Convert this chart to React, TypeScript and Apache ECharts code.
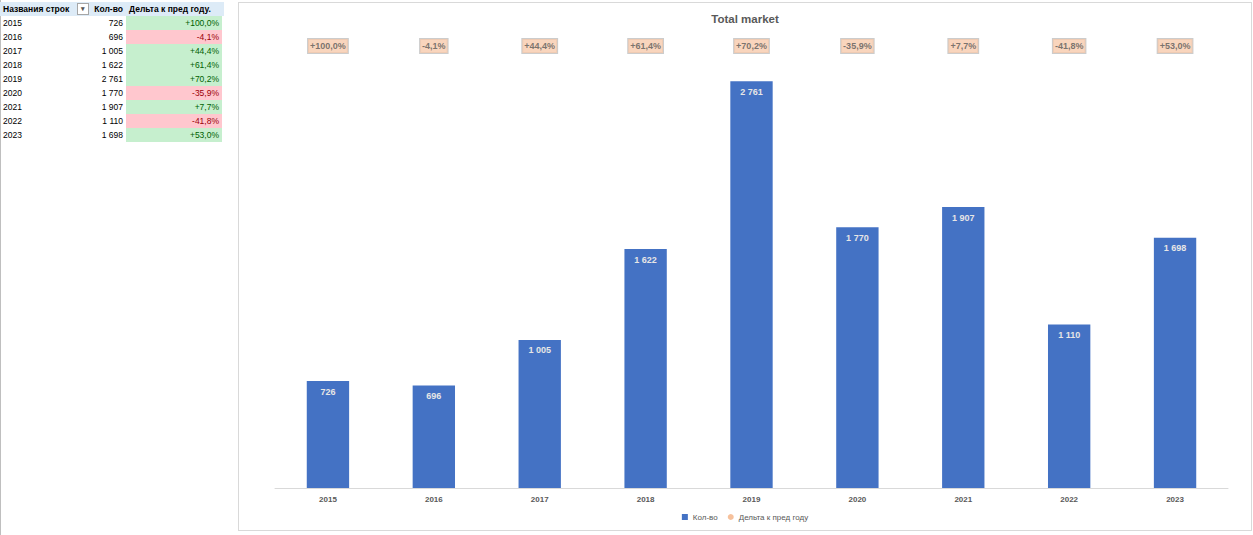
import React, { useEffect, useRef } from 'react';
import * as echarts from 'echarts';

const years = ['2015', '2016', '2017', '2018', '2019', '2020', '2021', '2022', '2023'];
const counts = [726, 696, 1005, 1622, 2761, 1770, 1907, 1110, 1698];
const deltas = [100.0, -4.1, 44.4, 61.4, 70.2, -35.9, 7.7, -41.8, 53.0];

const fmtNum = (v: number) => String(v).replace(/\B(?=(\d{3})+(?!\d))/g, ' ');
const fmtPct = (v: number) => (v >= 0 ? '+' : '') + v.toFixed(1).replace('.', ',') + '%';

const font = '"Liberation Sans", Arial, sans-serif';

const PivotTable: React.FC = () => {
  const cell: React.CSSProperties = { height: 14, lineHeight: '14px', padding: '0 3px', whiteSpace: 'nowrap' };
  return (
    <div style={{ position: 'absolute', left: 0, top: 0, width: 224, fontFamily: font, fontSize: 8.5, color: '#000' }}>
      <div style={{ display: 'flex', height: 14, marginTop: 2, background: '#DDEBF7', fontWeight: 'bold' }}>
        <div style={{ ...cell, width: 88, boxSizing: 'border-box', position: 'relative' }}>
          Названия строк
          <span style={{ position: 'absolute', left: 77, top: 1, width: 10, height: 10, border: '1px solid #A6A6A6', background: '#fff', lineHeight: '10px', fontSize: 7, textAlign: 'center', color: '#555' }}>▾</span>
        </div>
        <div style={{ ...cell, width: 38, boxSizing: 'border-box', textAlign: 'right' }}>Кол-во</div>
        <div style={{ ...cell, width: 96, boxSizing: 'border-box' }}>Дельта к пред году.</div>
      </div>
      {years.map((y, i) => (
        <div key={y} style={{ display: 'flex', height: 14 }}>
          <div style={{ ...cell, width: 88, boxSizing: 'border-box' }}>{y}</div>
          <div style={{ ...cell, width: 38, boxSizing: 'border-box', textAlign: 'right' }}>{fmtNum(counts[i])}</div>
          <div
            style={{
              ...cell,
              width: 96,
              boxSizing: 'border-box',
              textAlign: 'right',
              background: deltas[i] >= 0 ? '#C6EFCE' : '#FFC7CE',
              color: deltas[i] >= 0 ? '#006100' : '#9C0006',
            }}
          >
            {fmtPct(deltas[i])}
          </div>
        </div>
      ))}
    </div>
  );
};

const App: React.FC = () => {
  const chartRef = useRef<HTMLDivElement>(null);

  useEffect(() => {
    if (!chartRef.current) return;
    const chart = echarts.init(chartRef.current, undefined, { renderer: 'svg' });

    chart.setOption({
      animation: false,
      textStyle: { fontFamily: font },
      title: {
        text: 'Total market',
        left: 'center',
        top: 5,
        textStyle: { fontSize: 11.5, fontWeight: 'bold', color: '#595959' },
      },
      legend: {
        bottom: 4,
        left: 'center',
        itemWidth: 6,
        itemHeight: 6,
        itemGap: 10,
        textStyle: { fontSize: 8, color: '#595959' },
        data: [
          { name: 'Кол-во', icon: 'rect' },
          { name: 'Дельта к пред году', icon: 'circle' },
        ],
      },
      grid: { left: 36, right: 23, top: 43, bottom: 42 },
      xAxis: {
        type: 'category',
        data: years,
        axisLine: { lineStyle: { color: '#D9D9D9' } },
        axisTick: { show: false },
        axisLabel: { fontSize: 8, fontWeight: 'bold', color: '#595959', margin: 7 },
      },
      yAxis: [
        { type: 'value', min: 0, max: 3000, show: false, splitLine: { show: false } },
        { type: 'value', min: 0, max: 1, show: false, splitLine: { show: false } },
      ],
      series: [
        {
          name: 'Кол-во',
          type: 'bar',
          data: counts,
          barWidth: '40%',
          itemStyle: { color: '#4472C4' },
          label: {
            show: true,
            position: 'insideTop',
            distance: 6,
            fontSize: 9,
            fontWeight: 'bold',
            color: '#E7E6E6',
            formatter: (p: any) => fmtNum(p.value),
          },
        },
        {
          name: 'Дельта к пред году',
          type: 'scatter',
          yAxisIndex: 1,
          symbolSize: 0,
          itemStyle: { color: '#F4B183' },
          data: deltas.map((d, i) => ({ value: [i, 1], delta: d })),
          label: {
            show: true,
            position: 'inside',
            fontSize: 9,
            fontWeight: 'bold',
            color: '#595959',
            backgroundColor: '#F8CBAD',
            borderColor: '#BFBFBF',
            borderWidth: 1,
            padding: [3, 2, 2, 2],
            formatter: (p: any) => fmtPct(p.data.delta),
          },
        },
      ],
    });

    return () => chart.dispose();
  }, []);

  return (
    <div style={{ position: 'fixed', left: 0, top: 0, width: 1253, height: 535, background: '#fff', overflow: 'hidden' }}>
      <div style={{ position: 'absolute', left: 0, top: 0, width: 1, height: 535, background: '#BFBFBF' }} />
      <PivotTable />
      <div
        style={{
          position: 'absolute',
          left: 238,
          top: 2,
          width: 1012,
          height: 527,
          border: '1px solid #D9D9D9',
        }}
      >
        <div ref={chartRef} style={{ width: 1012, height: 527 }} />
      </div>
    </div>
  );
};

export default App;
